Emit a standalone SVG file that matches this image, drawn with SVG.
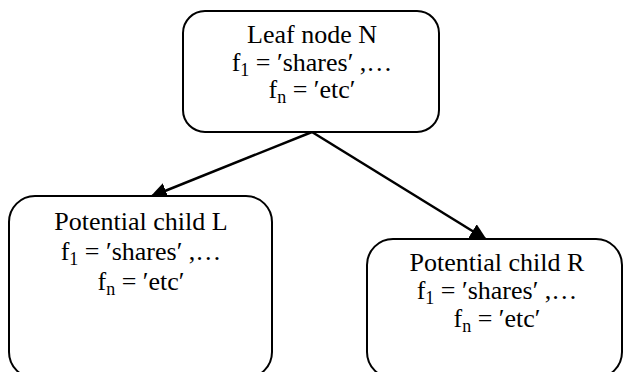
<svg xmlns="http://www.w3.org/2000/svg" width="624" height="372" viewBox="0 0 624 372">
<style>
.box{fill:#fff;stroke:#000;stroke-width:2}
.t{font-family:"Liberation Serif","Times New Roman",serif;font-size:26px;fill:#000;text-anchor:middle}
.sub{font-size:18px}
.edge{stroke:#000;stroke-width:2.5;fill:none}
</style>
<defs>
<marker id="ah" markerUnits="userSpaceOnUse" markerWidth="20" markerHeight="20" refX="17" refY="8" orient="auto">
<path d="M0,0 L17,8 L0,16 z" fill="#000"/>
</marker>
</defs>
<rect width="624" height="372" fill="#fff"/>
<g id="connectors">
<line class="edge" x1="312" y1="132" x2="150" y2="197" marker-end="url(#ah)"/>
<line class="edge" x1="312" y1="132" x2="487" y2="240" marker-end="url(#ah)"/>
</g>
<g id="nodeN">
<rect class="box" x="183" y="11" width="256" height="121" rx="22"/>
<text class="t" x="312" y="43">Leaf node N</text>
<text class="t" x="312" y="71">f<tspan class="sub" dy="5">1</tspan><tspan dy="-5"> = ′shares′ ,…</tspan></text>
<text class="t" x="312" y="98">f<tspan class="sub" dy="5">n</tspan><tspan dy="-5"> = ′etc′</tspan></text>
</g>
<g id="nodeL">
<rect class="box" x="9" y="196" width="263" height="182" rx="26"/>
<text class="t" x="141" y="230">Potential child L</text>
<text class="t" x="141" y="260">f<tspan class="sub" dy="5">1</tspan><tspan dy="-5"> = ′shares′ ,…</tspan></text>
<text class="t" x="141" y="290">f<tspan class="sub" dy="5">n</tspan><tspan dy="-5"> = ′etc′</tspan></text>
</g>
<g id="nodeR">
<rect class="box" x="367" y="239" width="255" height="139" rx="26"/>
<text class="t" x="497" y="271">Potential child R</text>
<text class="t" x="497" y="299">f<tspan class="sub" dy="5">1</tspan><tspan dy="-5"> = ′shares′ ,…</tspan></text>
<text class="t" x="497" y="327">f<tspan class="sub" dy="5">n</tspan><tspan dy="-5"> = ′etc′</tspan></text>
</g>
</svg>
